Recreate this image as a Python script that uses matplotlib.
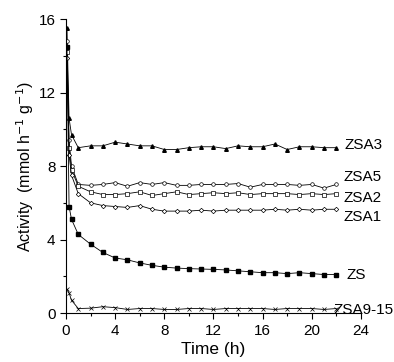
import numpy as np
import matplotlib.pyplot as plt
from matplotlib.ticker import MultipleLocator

plt.rcParams['font.family'] = ['Liberation Sans', 'DejaVu Sans']

t = [0.08, 0.25, 0.45, 1] + list(range(2, 23))

zsa3 = [15.5, 10.6, 9.7, 9.0, 9.1, 9.1, 9.3, 9.2, 9.1, 9.1, 8.9, 8.9, 9.0,
        9.05, 9.05, 8.95, 9.1, 9.05, 9.05, 9.2, 8.9, 9.05, 9.05, 9.0, 9.0]
zsa5 = [14.8, 9.4, 8.0, 7.0, 6.95, 7.0, 7.1, 6.9, 7.1, 7.0, 7.1, 6.95, 6.95,
        7.0, 7.0, 7.0, 7.05, 6.85, 7.0, 7.0, 7.0, 6.95, 7.0, 6.8, 7.0]
zsa2 = [14.2, 9.0, 7.8, 6.9, 6.6, 6.45, 6.45, 6.5, 6.6, 6.4, 6.5, 6.6, 6.45,
        6.5, 6.55, 6.5, 6.55, 6.45, 6.5, 6.5, 6.5, 6.45, 6.5, 6.45, 6.5]
zsa1 = [13.9, 8.6, 7.5, 6.5, 6.0, 5.85, 5.8, 5.75, 5.85, 5.65, 5.55, 5.55, 5.55,
        5.6, 5.55, 5.6, 5.6, 5.6, 5.6, 5.65, 5.6, 5.65, 5.6, 5.65, 5.65]
zs = [14.5, 5.8, 5.1, 4.28, 3.75, 3.3, 3.0, 2.9, 2.73, 2.6, 2.5, 2.45, 2.42,
      2.4, 2.38, 2.35, 2.3, 2.25, 2.2, 2.2, 2.15, 2.2, 2.15, 2.1, 2.1]
zsa915 = [1.3, 1.1, 0.7, 0.25, 0.27, 0.35, 0.3, 0.2, 0.25, 0.25, 0.2, 0.2, 0.25,
          0.25, 0.2, 0.25, 0.25, 0.25, 0.25, 0.2, 0.25, 0.25, 0.25, 0.2, 0.25]

fig = plt.figure(figsize=(3.94, 3.62), dpi=100)
ax = fig.add_axes([0.1675, 0.135, 0.7485, 0.8125])

kw = dict(color='black', lw=0.6, ms=2.6)
ax.plot(t, zsa3, marker='^', mfc='black', **kw)
ax.plot(t, zsa5, marker='o', mfc='white', mew=0.5, **kw)
ax.plot(t, zsa2, marker='s', mfc='white', mew=0.5, color='black', lw=0.6, ms=2.3)
ax.plot(t, zsa1, marker='D', mfc='white', mew=0.5, ms=2.3, color='black', lw=0.6)
ax.plot(t, zs, marker='s', mfc='black', ms=2.2, color='black', lw=0.6)
ax.plot(t, zsa915, marker='x', mew=0.5, **kw)

labels = [('ZSA3', 22.7, 9.15), ('ZSA5', 22.6, 7.4), ('ZSA2', 22.6, 6.26),
          ('ZSA1', 22.6, 5.25), ('ZS', 22.8, 2.07), ('ZSA9-15', 21.8, 0.16)]
for name, lx, ly in labels:
    ax.text(lx, ly, name, fontsize=11, va='center', ha='left')

ax.set_xlim(0, 24)
ax.set_ylim(0, 16)
ax.xaxis.set_major_locator(MultipleLocator(4))
ax.xaxis.set_minor_locator(MultipleLocator(2))
ax.yaxis.set_major_locator(MultipleLocator(4))
ax.yaxis.set_minor_locator(MultipleLocator(2))
ax.tick_params(which='both', direction='out', labelsize=11, width=0.8)
ax.tick_params(which='major', length=4)
ax.tick_params(which='minor', length=2.5)
ax.spines['top'].set_visible(False)
ax.spines['right'].set_visible(False)
ax.set_xlabel('Time (h)', fontsize=12.5, labelpad=3)
ax.set_ylabel('Activity  (mmol h$^{-1}$ g$^{-1}$)', fontsize=11.5, labelpad=2)

fig.savefig('out.png', dpi=100)
